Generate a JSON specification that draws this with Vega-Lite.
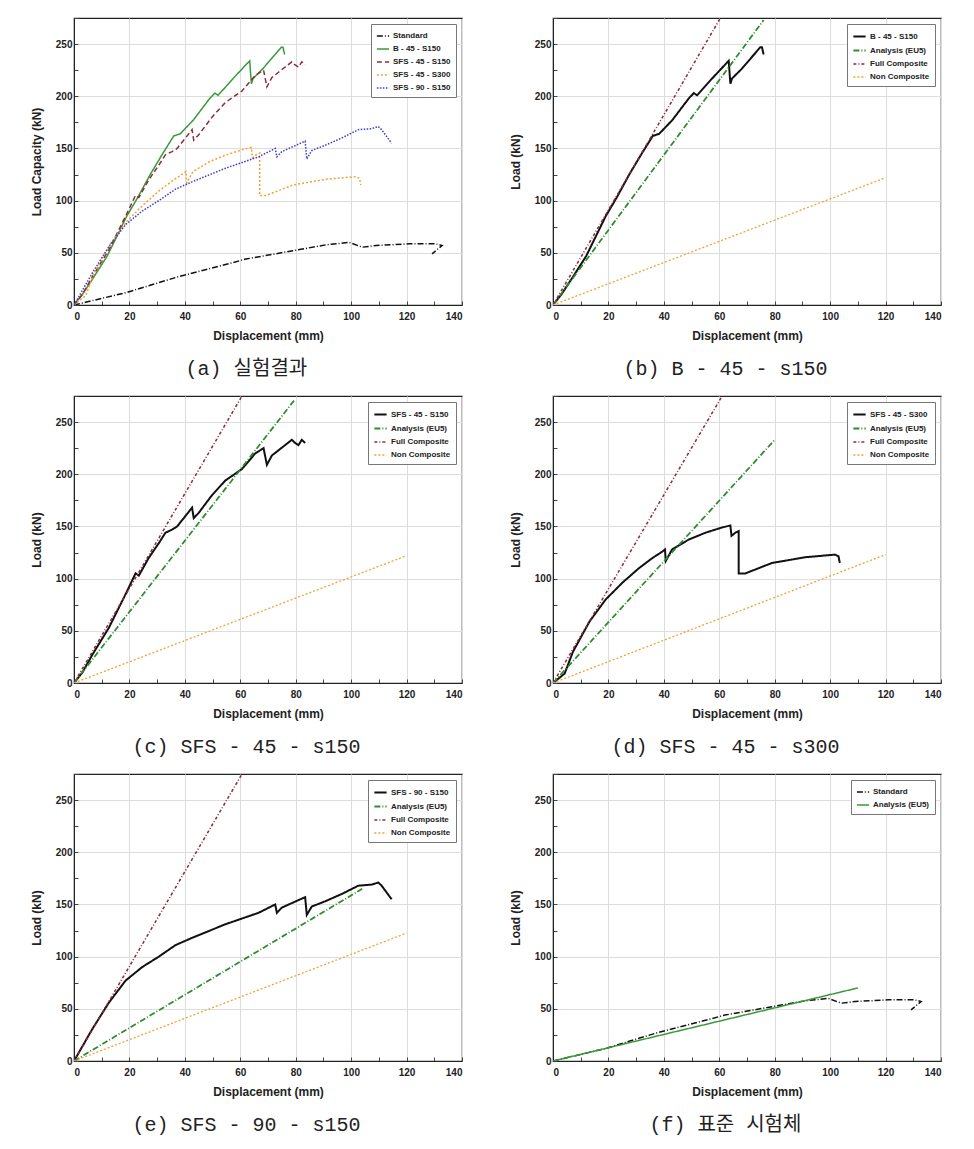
{
"$schema": "https://vega.github.io/schema/vega-lite/v6.json",
"padding": {"left": 29, "top": 12, "right": 5, "bottom": 5},
"background": "white",
"datasets": {"all": [
{"p":"e","s":"Standard","i":0,"x":0,"y":0},{"p":"e","s":"Standard","i":1,"x":19,"y":12},{"p":"e","s":"Standard","i":2,"x":37,"y":26.6},{"p":"e","s":"Standard","i":3,"x":55,"y":39},{"p":"e","s":"Standard","i":4,"x":62,"y":44},{"p":"e","s":"Standard","i":5,"x":79,"y":52},{"p":"e","s":"Standard","i":6,"x":91,"y":57.7},{"p":"e","s":"Standard","i":7,"x":99.3,"y":60},{"p":"e","s":"Standard","i":8,"x":104,"y":55.4},{"p":"e","s":"Standard","i":9,"x":109,"y":57},{"p":"e","s":"Standard","i":10,"x":121,"y":58.6},{"p":"e","s":"Standard","i":11,"x":130.4,"y":58.6},{"p":"e","s":"Standard","i":12,"x":132.8,"y":57},{"p":"e","s":"Standard","i":13,"x":129.2,"y":49},
{"p":"e","s":"B - 45 - S150","i":0,"x":0,"y":0},{"p":"e","s":"B - 45 - S150","i":1,"x":3,"y":10},{"p":"e","s":"B - 45 - S150","i":2,"x":7.2,"y":27},{"p":"e","s":"B - 45 - S150","i":3,"x":12,"y":47},{"p":"e","s":"B - 45 - S150","i":4,"x":19,"y":85},{"p":"e","s":"B - 45 - S150","i":5,"x":23,"y":103},{"p":"e","s":"B - 45 - S150","i":6,"x":27.5,"y":125},{"p":"e","s":"B - 45 - S150","i":7,"x":32,"y":145},{"p":"e","s":"B - 45 - S150","i":8,"x":36,"y":162},{"p":"e","s":"B - 45 - S150","i":9,"x":38.3,"y":164},{"p":"e","s":"B - 45 - S150","i":10,"x":43,"y":177},{"p":"e","s":"B - 45 - S150","i":11,"x":49,"y":198},{"p":"e","s":"B - 45 - S150","i":12,"x":50.8,"y":203},{"p":"e","s":"B - 45 - S150","i":13,"x":52,"y":201},{"p":"e","s":"B - 45 - S150","i":14,"x":57.4,"y":217},{"p":"e","s":"B - 45 - S150","i":15,"x":63.4,"y":234},{"p":"e","s":"B - 45 - S150","i":16,"x":64,"y":212},{"p":"e","s":"B - 45 - S150","i":17,"x":64.6,"y":217},{"p":"e","s":"B - 45 - S150","i":18,"x":68,"y":226},{"p":"e","s":"B - 45 - S150","i":19,"x":74.8,"y":247},{"p":"e","s":"B - 45 - S150","i":20,"x":75.4,"y":247},{"p":"e","s":"B - 45 - S150","i":21,"x":76,"y":240},
{"p":"e","s":"SFS - 45 - S150","i":0,"x":0,"y":0},{"p":"e","s":"SFS - 45 - S150","i":1,"x":3,"y":10},{"p":"e","s":"SFS - 45 - S150","i":2,"x":6.6,"y":27},{"p":"e","s":"SFS - 45 - S150","i":3,"x":12.6,"y":53},{"p":"e","s":"SFS - 45 - S150","i":4,"x":18.6,"y":85},{"p":"e","s":"SFS - 45 - S150","i":5,"x":22.2,"y":105},{"p":"e","s":"SFS - 45 - S150","i":6,"x":23.4,"y":103},{"p":"e","s":"SFS - 45 - S150","i":7,"x":27,"y":120},{"p":"e","s":"SFS - 45 - S150","i":8,"x":30.6,"y":134},{"p":"e","s":"SFS - 45 - S150","i":9,"x":33,"y":144},{"p":"e","s":"SFS - 45 - S150","i":10,"x":35.4,"y":147},{"p":"e","s":"SFS - 45 - S150","i":11,"x":37.2,"y":150},{"p":"e","s":"SFS - 45 - S150","i":12,"x":42.6,"y":168},{"p":"e","s":"SFS - 45 - S150","i":13,"x":43.2,"y":158},{"p":"e","s":"SFS - 45 - S150","i":14,"x":45,"y":163},{"p":"e","s":"SFS - 45 - S150","i":15,"x":49.8,"y":180},{"p":"e","s":"SFS - 45 - S150","i":16,"x":54.6,"y":194},{"p":"e","s":"SFS - 45 - S150","i":17,"x":60.6,"y":205},{"p":"e","s":"SFS - 45 - S150","i":18,"x":65.4,"y":220},{"p":"e","s":"SFS - 45 - S150","i":19,"x":68.4,"y":225},{"p":"e","s":"SFS - 45 - S150","i":20,"x":69.6,"y":209},{"p":"e","s":"SFS - 45 - S150","i":21,"x":71.4,"y":218},{"p":"e","s":"SFS - 45 - S150","i":22,"x":73.8,"y":223},{"p":"e","s":"SFS - 45 - S150","i":23,"x":78.6,"y":233},{"p":"e","s":"SFS - 45 - S150","i":24,"x":79.8,"y":230},{"p":"e","s":"SFS - 45 - S150","i":25,"x":81,"y":228},{"p":"e","s":"SFS - 45 - S150","i":26,"x":82.2,"y":233},{"p":"e","s":"SFS - 45 - S150","i":27,"x":83.4,"y":230},
{"p":"e","s":"SFS - 45 - S300","i":0,"x":0,"y":0},{"p":"e","s":"SFS - 45 - S300","i":1,"x":4.2,"y":9},{"p":"e","s":"SFS - 45 - S300","i":2,"x":7.2,"y":30},{"p":"e","s":"SFS - 45 - S300","i":3,"x":13.2,"y":59},{"p":"e","s":"SFS - 45 - S300","i":4,"x":19,"y":80},{"p":"e","s":"SFS - 45 - S300","i":5,"x":25,"y":96},{"p":"e","s":"SFS - 45 - S300","i":6,"x":31,"y":110},{"p":"e","s":"SFS - 45 - S300","i":7,"x":36,"y":120},{"p":"e","s":"SFS - 45 - S300","i":8,"x":39.5,"y":126},{"p":"e","s":"SFS - 45 - S300","i":9,"x":40.4,"y":128},{"p":"e","s":"SFS - 45 - S300","i":10,"x":40.7,"y":117},{"p":"e","s":"SFS - 45 - S300","i":11,"x":43,"y":128},{"p":"e","s":"SFS - 45 - S300","i":12,"x":49,"y":137.5},{"p":"e","s":"SFS - 45 - S300","i":13,"x":55,"y":144},{"p":"e","s":"SFS - 45 - S300","i":14,"x":61,"y":149},{"p":"e","s":"SFS - 45 - S300","i":15,"x":64,"y":151},{"p":"e","s":"SFS - 45 - S300","i":16,"x":64.4,"y":141},{"p":"e","s":"SFS - 45 - S300","i":17,"x":65.8,"y":144},{"p":"e","s":"SFS - 45 - S300","i":18,"x":67,"y":145.6},{"p":"e","s":"SFS - 45 - S300","i":19,"x":67,"y":105},{"p":"e","s":"SFS - 45 - S300","i":20,"x":69.4,"y":105},{"p":"e","s":"SFS - 45 - S300","i":21,"x":79,"y":115},{"p":"e","s":"SFS - 45 - S300","i":22,"x":91,"y":120.5},{"p":"e","s":"SFS - 45 - S300","i":23,"x":101.7,"y":123},{"p":"e","s":"SFS - 45 - S300","i":24,"x":103,"y":121.5},{"p":"e","s":"SFS - 45 - S300","i":25,"x":103.5,"y":115},
{"p":"e","s":"SFS - 90 - S150","i":0,"x":0,"y":0},{"p":"e","s":"SFS - 90 - S150","i":1,"x":6.6,"y":30.6},{"p":"e","s":"SFS - 90 - S150","i":2,"x":12.6,"y":56},{"p":"e","s":"SFS - 90 - S150","i":3,"x":18.6,"y":77},{"p":"e","s":"SFS - 90 - S150","i":4,"x":24.6,"y":90},{"p":"e","s":"SFS - 90 - S150","i":5,"x":30.6,"y":100},{"p":"e","s":"SFS - 90 - S150","i":6,"x":36.6,"y":111},{"p":"e","s":"SFS - 90 - S150","i":7,"x":42.6,"y":118},{"p":"e","s":"SFS - 90 - S150","i":8,"x":54.6,"y":131},{"p":"e","s":"SFS - 90 - S150","i":9,"x":66.6,"y":142},{"p":"e","s":"SFS - 90 - S150","i":10,"x":72.6,"y":150},{"p":"e","s":"SFS - 90 - S150","i":11,"x":73.2,"y":142},{"p":"e","s":"SFS - 90 - S150","i":12,"x":75,"y":147},{"p":"e","s":"SFS - 90 - S150","i":13,"x":83.4,"y":157},{"p":"e","s":"SFS - 90 - S150","i":14,"x":84,"y":140},{"p":"e","s":"SFS - 90 - S150","i":15,"x":85.8,"y":148},{"p":"e","s":"SFS - 90 - S150","i":16,"x":90.6,"y":153},{"p":"e","s":"SFS - 90 - S150","i":17,"x":96.6,"y":160},{"p":"e","s":"SFS - 90 - S150","i":18,"x":102.6,"y":168},{"p":"e","s":"SFS - 90 - S150","i":19,"x":107.4,"y":169},{"p":"e","s":"SFS - 90 - S150","i":20,"x":109.8,"y":171},{"p":"e","s":"SFS - 90 - S150","i":21,"x":111,"y":168},{"p":"e","s":"SFS - 90 - S150","i":22,"x":114.6,"y":155},
{"p":"b","s":"Analysis (EU5)","i":0,"x":0,"y":0},{"p":"b","s":"Analysis (EU5)","i":1,"x":76,"y":273},
{"p":"b","s":"Full Composite","i":0,"x":0,"y":0},{"p":"b","s":"Full Composite","i":1,"x":60.4,"y":275},
{"p":"b","s":"Non Composite","i":0,"x":0,"y":0},{"p":"b","s":"Non Composite","i":1,"x":120,"y":122},
{"p":"c","s":"Analysis (EU5)","i":0,"x":0,"y":0},{"p":"c","s":"Analysis (EU5)","i":1,"x":79.8,"y":272},
{"p":"c","s":"Full Composite","i":0,"x":0,"y":0},{"p":"c","s":"Full Composite","i":1,"x":60.4,"y":274},
{"p":"c","s":"Non Composite","i":0,"x":0,"y":0},{"p":"c","s":"Non Composite","i":1,"x":120,"y":122},
{"p":"d","s":"Analysis (EU5)","i":0,"x":0,"y":0},{"p":"d","s":"Analysis (EU5)","i":1,"x":80,"y":233},
{"p":"d","s":"Full Composite","i":0,"x":0,"y":0},{"p":"d","s":"Full Composite","i":1,"x":60.8,"y":274},
{"p":"d","s":"Non Composite","i":0,"x":0,"y":0},{"p":"d","s":"Non Composite","i":1,"x":120,"y":123},
{"p":"ee","s":"Analysis (EU5)","i":0,"x":0,"y":0},{"p":"ee","s":"Analysis (EU5)","i":1,"x":104,"y":165},
{"p":"ee","s":"Full Composite","i":0,"x":0,"y":0},{"p":"ee","s":"Full Composite","i":1,"x":60.4,"y":274},
{"p":"ee","s":"Non Composite","i":0,"x":0,"y":0},{"p":"ee","s":"Non Composite","i":1,"x":120,"y":122.6},
{"p":"f","s":"Analysis (EU5)","i":0,"x":0,"y":0},{"p":"f","s":"Analysis (EU5)","i":1,"x":110,"y":70}
]},
"vconcat": [
{"hconcat": [
{"width": 388, "height": 287, "data": {"name": "all"},
 "transform": [{"filter": "datum.p === 'e'"}],
 "mark": {"type": "line", "clip": true, "strokeWidth": 1.5},
 "encoding": {
  "x": {"field": "x", "type": "quantitative", "scale": {"domain": [0, 140], "nice": false}, "axis": {"title": "Displacement (mm)", "values": [0,10,20,30,40,50,60,70,80,90,100,110,120,130,140], "labelExpr": "datum.value % 20 === 0 ? datum.label : ''", "gridOpacity": {"condition": {"test": "datum.value % 20 === 0", "value": 1}, "value": 0}}},
  "y": {"field": "y", "type": "quantitative", "scale": {"domain": [0, 275], "nice": false}, "axis": {"title": "Load Capacity (kN)", "values": [0,25,50,75,100,125,150,175,200,225,250,275], "labelExpr": "datum.value % 50 === 0 ? datum.label : ''", "gridOpacity": {"condition": {"test": "datum.value % 50 === 0", "value": 1}, "value": 0}}},
  "order": {"field": "i"},
  "color": {"field": "s", "type": "nominal", "scale": {"domain": ["Standard", "B - 45 - S150", "SFS - 45 - S150", "SFS - 45 - S300", "SFS - 90 - S150"], "range": ["#111111", "#3a9a3a", "#8b2c3c", "#f5a030", "#3a3ad0"]}, "legend": {"title": null}},
  "strokeDash": {"field": "s", "type": "nominal", "scale": {"domain": ["Standard", "B - 45 - S150", "SFS - 45 - S150", "SFS - 45 - S300", "SFS - 90 - S150"], "range": [[6,2,1,2], [1,0], [5,3], [2,2], [1.5,1.5]]}, "legend": {"title": null}}
 },
 "title": {"text": "(a) 실험결과"}
},
{"width": 388, "height": 287, "data": {"name": "all"},
 "transform": [{"filter": "datum.s === 'B - 45 - S150' || datum.p === 'b'"}],
 "mark": {"type": "line", "clip": true},
 "encoding": {
  "x": {"field": "x", "type": "quantitative", "scale": {"domain": [0, 140], "nice": false}, "axis": {"title": "Displacement (mm)", "values": [0,10,20,30,40,50,60,70,80,90,100,110,120,130,140], "labelExpr": "datum.value % 20 === 0 ? datum.label : ''", "gridOpacity": {"condition": {"test": "datum.value % 20 === 0", "value": 1}, "value": 0}}},
  "y": {"field": "y", "type": "quantitative", "scale": {"domain": [0, 275], "nice": false}, "axis": {"title": "Load (kN)", "values": [0,25,50,75,100,125,150,175,200,225,250,275], "labelExpr": "datum.value % 50 === 0 ? datum.label : ''", "gridOpacity": {"condition": {"test": "datum.value % 50 === 0", "value": 1}, "value": 0}}},
  "order": {"field": "i"},
  "color": {"field": "s", "type": "nominal", "scale": {"domain": ["B - 45 - S150", "Analysis (EU5)", "Full Composite", "Non Composite"], "range": ["#111111", "#2e8b2e", "#8b2c3c", "#f5a030"]}, "legend": {"title": null}},
  "strokeDash": {"field": "s", "type": "nominal", "scale": {"domain": ["B - 45 - S150", "Analysis (EU5)", "Full Composite", "Non Composite"], "range": [[1,0], [6,2,1,2], [3,2,1,2], [2,2]]}, "legend": {"title": null}},
  "strokeWidth": {"field": "s", "type": "nominal", "scale": {"domain": ["B - 45 - S150", "Analysis (EU5)", "Full Composite", "Non Composite"], "range": [2, 1.3, 1.3, 1.5]}, "legend": null}
 },
 "title": {"text": "(b) B - 45 - s150"}
}
], "spacing": 44, "resolve": {"scale": {"color": "independent", "strokeDash": "independent", "strokeWidth": "independent"}, "legend": {"color": "independent", "strokeDash": "independent"}}},
{"hconcat": [
{"width": 388, "height": 287, "data": {"name": "all"},
 "transform": [{"filter": "datum.s === 'SFS - 45 - S150' || datum.p === 'c'"}],
 "mark": {"type": "line", "clip": true},
 "encoding": {
  "x": {"field": "x", "type": "quantitative", "scale": {"domain": [0, 140], "nice": false}, "axis": {"title": "Displacement (mm)", "values": [0,10,20,30,40,50,60,70,80,90,100,110,120,130,140], "labelExpr": "datum.value % 20 === 0 ? datum.label : ''", "gridOpacity": {"condition": {"test": "datum.value % 20 === 0", "value": 1}, "value": 0}}},
  "y": {"field": "y", "type": "quantitative", "scale": {"domain": [0, 275], "nice": false}, "axis": {"title": "Load (kN)", "values": [0,25,50,75,100,125,150,175,200,225,250,275], "labelExpr": "datum.value % 50 === 0 ? datum.label : ''", "gridOpacity": {"condition": {"test": "datum.value % 50 === 0", "value": 1}, "value": 0}}},
  "order": {"field": "i"},
  "color": {"field": "s", "type": "nominal", "scale": {"domain": ["SFS - 45 - S150", "Analysis (EU5)", "Full Composite", "Non Composite"], "range": ["#111111", "#2e8b2e", "#8b2c3c", "#f5a030"]}, "legend": {"title": null}},
  "strokeDash": {"field": "s", "type": "nominal", "scale": {"domain": ["SFS - 45 - S150", "Analysis (EU5)", "Full Composite", "Non Composite"], "range": [[1,0], [6,2,1,2], [3,2,1,2], [2,2]]}, "legend": {"title": null}},
  "strokeWidth": {"field": "s", "type": "nominal", "scale": {"domain": ["SFS - 45 - S150", "Analysis (EU5)", "Full Composite", "Non Composite"], "range": [2, 1.3, 1.3, 1.5]}, "legend": null}
 },
 "title": {"text": "(c) SFS - 45 - s150"}
},
{"width": 388, "height": 287, "data": {"name": "all"},
 "transform": [{"filter": "datum.s === 'SFS - 45 - S300' || datum.p === 'd'"}],
 "mark": {"type": "line", "clip": true},
 "encoding": {
  "x": {"field": "x", "type": "quantitative", "scale": {"domain": [0, 140], "nice": false}, "axis": {"title": "Displacement (mm)", "values": [0,10,20,30,40,50,60,70,80,90,100,110,120,130,140], "labelExpr": "datum.value % 20 === 0 ? datum.label : ''", "gridOpacity": {"condition": {"test": "datum.value % 20 === 0", "value": 1}, "value": 0}}},
  "y": {"field": "y", "type": "quantitative", "scale": {"domain": [0, 275], "nice": false}, "axis": {"title": "Load (kN)", "values": [0,25,50,75,100,125,150,175,200,225,250,275], "labelExpr": "datum.value % 50 === 0 ? datum.label : ''", "gridOpacity": {"condition": {"test": "datum.value % 50 === 0", "value": 1}, "value": 0}}},
  "order": {"field": "i"},
  "color": {"field": "s", "type": "nominal", "scale": {"domain": ["SFS - 45 - S300", "Analysis (EU5)", "Full Composite", "Non Composite"], "range": ["#111111", "#2e8b2e", "#8b2c3c", "#f5a030"]}, "legend": {"title": null}},
  "strokeDash": {"field": "s", "type": "nominal", "scale": {"domain": ["SFS - 45 - S300", "Analysis (EU5)", "Full Composite", "Non Composite"], "range": [[1,0], [6,2,1,2], [3,2,1,2], [2,2]]}, "legend": {"title": null}},
  "strokeWidth": {"field": "s", "type": "nominal", "scale": {"domain": ["SFS - 45 - S300", "Analysis (EU5)", "Full Composite", "Non Composite"], "range": [2, 1.3, 1.3, 1.5]}, "legend": null}
 },
 "title": {"text": "(d) SFS - 45 - s300"}
}
], "spacing": 44, "resolve": {"scale": {"color": "independent", "strokeDash": "independent", "strokeWidth": "independent"}, "legend": {"color": "independent", "strokeDash": "independent"}}},
{"hconcat": [
{"width": 388, "height": 287, "data": {"name": "all"},
 "transform": [{"filter": "datum.s === 'SFS - 90 - S150' || datum.p === 'ee'"}],
 "mark": {"type": "line", "clip": true},
 "encoding": {
  "x": {"field": "x", "type": "quantitative", "scale": {"domain": [0, 140], "nice": false}, "axis": {"title": "Displacement (mm)", "values": [0,10,20,30,40,50,60,70,80,90,100,110,120,130,140], "labelExpr": "datum.value % 20 === 0 ? datum.label : ''", "gridOpacity": {"condition": {"test": "datum.value % 20 === 0", "value": 1}, "value": 0}}},
  "y": {"field": "y", "type": "quantitative", "scale": {"domain": [0, 275], "nice": false}, "axis": {"title": "Load (kN)", "values": [0,25,50,75,100,125,150,175,200,225,250,275], "labelExpr": "datum.value % 50 === 0 ? datum.label : ''", "gridOpacity": {"condition": {"test": "datum.value % 50 === 0", "value": 1}, "value": 0}}},
  "order": {"field": "i"},
  "color": {"field": "s", "type": "nominal", "scale": {"domain": ["SFS - 90 - S150", "Analysis (EU5)", "Full Composite", "Non Composite"], "range": ["#111111", "#2e8b2e", "#8b2c3c", "#f5a030"]}, "legend": {"title": null}},
  "strokeDash": {"field": "s", "type": "nominal", "scale": {"domain": ["SFS - 90 - S150", "Analysis (EU5)", "Full Composite", "Non Composite"], "range": [[1,0], [6,2,1,2], [3,2,1,2], [2,2]]}, "legend": {"title": null}},
  "strokeWidth": {"field": "s", "type": "nominal", "scale": {"domain": ["SFS - 90 - S150", "Analysis (EU5)", "Full Composite", "Non Composite"], "range": [2, 1.3, 1.3, 1.5]}, "legend": null}
 },
 "title": {"text": "(e) SFS - 90 - s150"}
},
{"width": 388, "height": 287, "data": {"name": "all"},
 "transform": [{"filter": "datum.s === 'Standard' || datum.p === 'f'"}],
 "mark": {"type": "line", "clip": true, "strokeWidth": 1.5},
 "encoding": {
  "x": {"field": "x", "type": "quantitative", "scale": {"domain": [0, 140], "nice": false}, "axis": {"title": "Displacement (mm)", "values": [0,10,20,30,40,50,60,70,80,90,100,110,120,130,140], "labelExpr": "datum.value % 20 === 0 ? datum.label : ''", "gridOpacity": {"condition": {"test": "datum.value % 20 === 0", "value": 1}, "value": 0}}},
  "y": {"field": "y", "type": "quantitative", "scale": {"domain": [0, 275], "nice": false}, "axis": {"title": "Load (kN)", "values": [0,25,50,75,100,125,150,175,200,225,250,275], "labelExpr": "datum.value % 50 === 0 ? datum.label : ''", "gridOpacity": {"condition": {"test": "datum.value % 50 === 0", "value": 1}, "value": 0}}},
  "order": {"field": "i"},
  "color": {"field": "s", "type": "nominal", "scale": {"domain": ["Standard", "Analysis (EU5)"], "range": ["#111111", "#3a9a3a"]}, "legend": {"title": null}},
  "strokeDash": {"field": "s", "type": "nominal", "scale": {"domain": ["Standard", "Analysis (EU5)"], "range": [[6,2,1,2], [1,0]]}, "legend": {"title": null}}
 },
 "title": {"text": "(f) 표준 시험체"}
}
], "spacing": 44, "resolve": {"scale": {"color": "independent", "strokeDash": "independent", "strokeWidth": "independent"}, "legend": {"color": "independent", "strokeDash": "independent"}}}
],
"spacing": 10,
"resolve": {"scale": {"color": "independent", "strokeDash": "independent", "strokeWidth": "independent"}, "legend": {"color": "independent", "strokeDash": "independent"}},
"config": {
 "font": "Liberation Sans",
 "view": {"stroke": "#222", "strokeWidth": 1.2},
 "axis": {"labelFont": "Liberation Sans", "labelFontWeight": "bold", "labelFontSize": 10, "labelColor": "#222", "titleFont": "Liberation Sans", "titleFontSize": 12, "titleFontWeight": "bold", "titleColor": "#222", "domainColor": "#222", "tickColor": "#444", "tickSize": -4, "gridColor": "#dddddd", "labelOverlap": false},
 "axisX": {"labelPadding": 10, "titlePadding": 9},
 "axisY": {"labelPadding": 6, "titlePadding": 12},
 "legend": {"orient": "top-right", "offset": 6, "padding": 5, "strokeColor": "#777", "fillColor": "white", "labelFont": "Liberation Sans", "labelFontSize": 8, "labelFontWeight": "bold", "labelColor": "#222", "symbolType": "stroke", "symbolSize": 150, "symbolStrokeWidth": 1.5, "rowPadding": 2, "labelOffset": 3},
 "title": {"orient": "bottom", "anchor": "middle", "frame": "bounds", "font": "Liberation Mono, Noto Sans CJK KR", "fontSize": 20, "fontWeight": "normal", "color": "#222", "offset": 18}
}
}
